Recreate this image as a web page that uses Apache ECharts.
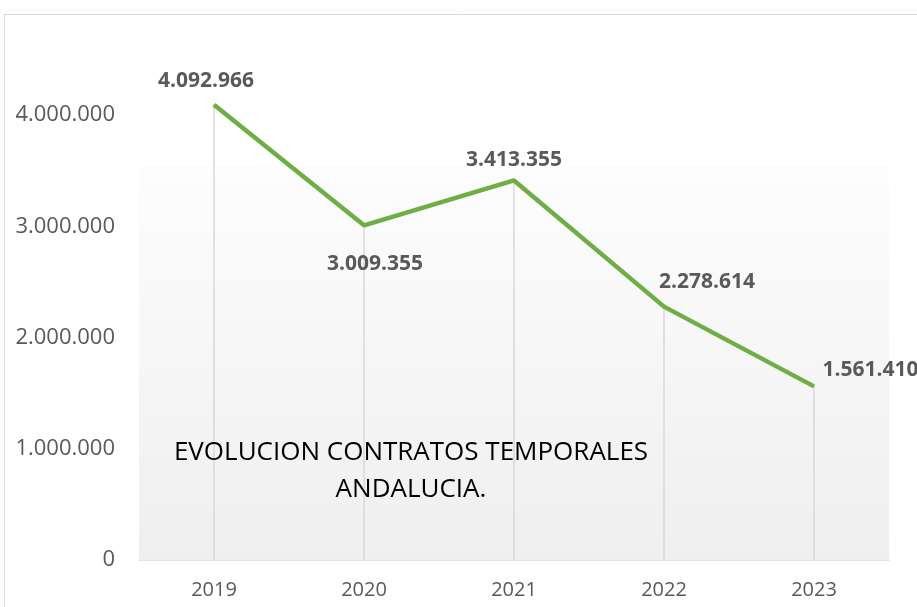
<!DOCTYPE html>
<html>
<head>
<meta charset="utf-8">
<script src="https://cdn.jsdelivr.net/npm/echarts@6/dist/echarts.min.js"></script>
<style>
	html, body { margin: 0; padding: 0; background: #fff; }
	#chart { width: 917px; height: 607px; }
</style>
</head>
<body>
<div id="chart"></div>
<script>
	// datos
	const years = ['2019', '2020', '2021', '2022', '2023']
	const contratos = [4092966, 3009355, 3413355, 2278614, 1561410]
	const yTicks = [0, 1000000, 2000000, 3000000, 4000000]

	// donde va cada etiqueta (posicion, desplazamiento)
	const labelPos = [
		['top', [-8, -8]],
		['bottom', [11, 23]],
		['top', [0, -4]],
		['top', [43, -9]],
		['right', [3, -16]]
	]

	const puntos = n => String(n).replace(/\B(?=(\d{3})+(?!\d))/g, '.')

	const myChart = echarts.init(document.getElementById('chart'))

	const option = {
		animation: false,
		textStyle: {
			fontFamily: 'Open Sans'
		},
		graphic: [{
			type: 'rect',
			shape: { x: 4.5, y: 14.5, width: 1000, height: 700 },
			style: { fill: 'none', stroke: '#d9d9d9', lineWidth: 1 },
			silent: true,
			z: -10
		}, {
			type: 'text',
			x: 411,
			y: 434,
			style: {
				text: 'EVOLUCION CONTRATOS TEMPORALES\nANDALUCIA.',
				align: 'center',
				verticalAlign: 'top',
				fill: '#000',
				font: '26px "Open Sans"',
				lineHeight: 37
			},
			z: 100
		}],
		grid: {
			left: 139,
			right: 28,
			top: 4,
			bottom: 47
		},
		xAxis: {
			type: 'category',
			data: years,
			axisLine: { lineStyle: { color: '#d9d9d9', width: 1.5 } },
			axisTick: { show: false },
			axisLabel: { color: '#595959', fontSize: 20, margin: 20 }
		},
		yAxis: {
			type: 'value',
			min: 0,
			max: 5000000,
			interval: 1000000,
			splitLine: { show: false },
			axisLine: { show: false },
			axisTick: { show: false },
			axisLabel: {
				showMaxLabel: false,
				color: '#595959',
				fontSize: 22,
				margin: 24,
				formatter: v => yTicks.includes(v) ? puntos(v) : ''
			}
		},
		series: [{
			// lineas de caida
			type: 'bar',
			data: contratos,
			barWidth: 1.5,
			silent: true,
			itemStyle: { color: '#d9d9d9' },
			z: 1,
			markArea: {
				silent: true,
				itemStyle: {
					color: new echarts.graphic.LinearGradient(0, 0, 0, 1, [
						{ offset: 0, color: '#fdfdfd' },
						{ offset: 1, color: '#efefef' }
					])
				},
				data: [[{ yAxis: 0 }, { yAxis: 3550000 }]]
			}
		}, {
			type: 'line',
			data: contratos.map((v, i) => ({
				value: v,
				label: { position: labelPos[i][0], offset: labelPos[i][1] }
			})),
			showSymbol: true,
			symbol: 'circle',
			symbolSize: 1,
			lineStyle: { color: '#6fad45', width: 4.5 },
			itemStyle: { color: '#6fad45' },
			label: {
				show: true,
				color: '#595959',
				fontWeight: 'bold',
				fontSize: 21,
				formatter: p => puntos(p.value)
			},
			z: 5
		}]
	}

	myChart.setOption(option)
</script>
</body>
</html>
